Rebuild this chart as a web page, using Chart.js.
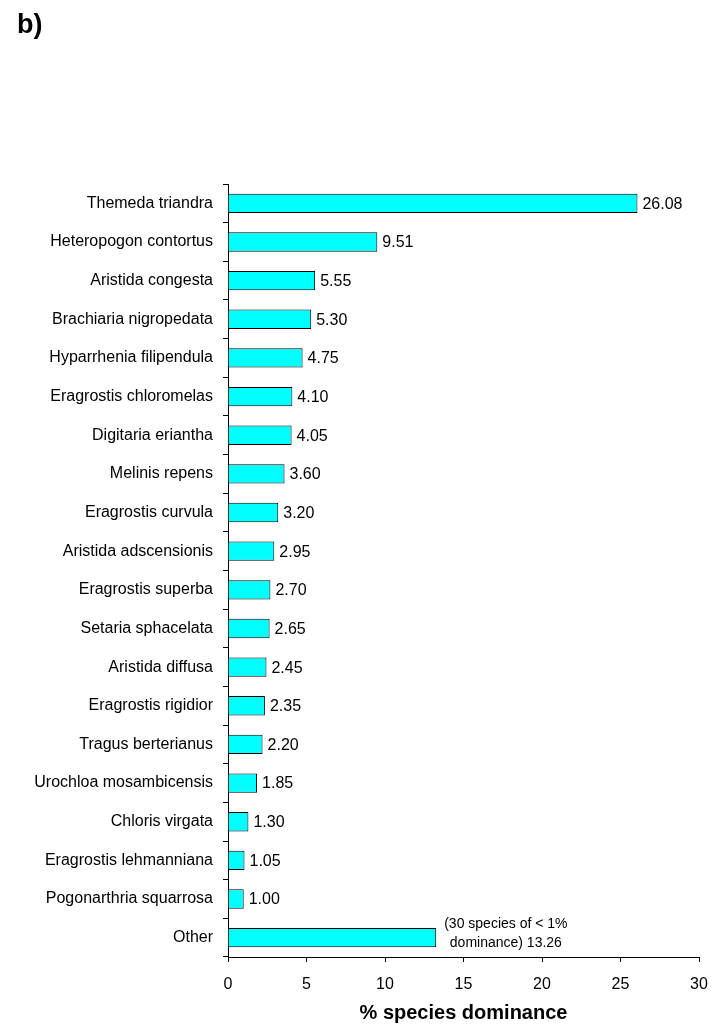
<!DOCTYPE html>
<html>
<head>
<meta charset="utf-8">
<script src="https://cdn.jsdelivr.net/npm/chart.js@4"></script>
<style>
  html, body { margin: 0; padding: 0; background: #fff; }
  #wrap { width: 715px; height: 1025px; }
</style>
</head>
<body>
<div id="wrap"><canvas id="c" width="715" height="1025"></canvas></div>
<script>
// categories (top to bottom)
const species = [
  'Themeda triandra', 'Heteropogon contortus', 'Aristida congesta', 'Brachiaria nigropedata',
  'Hyparrhenia filipendula', 'Eragrostis chloromelas', 'Digitaria eriantha', 'Melinis repens',
  'Eragrostis curvula', 'Aristida adscensionis', 'Eragrostis superba', 'Setaria sphacelata',
  'Aristida diffusa', 'Eragrostis rigidior', 'Tragus berterianus', 'Urochloa mosambicensis',
  'Chloris virgata', 'Eragrostis lehmanniana', 'Pogonarthria squarrosa', 'Other'
];
// % species dominance
const dominance = [26.08, 9.51, 5.55, 5.30, 4.75, 4.10, 4.05, 3.60, 3.20, 2.95,
                   2.70, 2.65, 2.45, 2.35, 2.20, 1.85, 1.30, 1.05, 1.00, 13.26];
const otherNote = ['(30 species of < 1%', 'dominance) 13.26'];
const xTicks = [0, 5, 10, 15, 20, 25, 30];

const FONT = 'Liberation Sans, Arial, sans-serif';

// подписи значений справа от столбцов
const valueLabels = {
  id: 'valueLabels',
  afterDatasetsDraw(chart) {
    const ctx = chart.ctx;
    const meta = chart.getDatasetMeta(0);
    ctx.save();
    ctx.fillStyle = '#000';
    ctx.textBaseline = 'middle';
    meta.data.forEach((bar, i) => {
      if (species[i] === 'Other') {
        ctx.font = '14px ' + FONT;
        const w = Math.max(...otherNote.map(t => ctx.measureText(t).width));
        ctx.textAlign = 'center';
        const cx = bar.x + 8 + w / 2;
        ctx.fillText(otherNote[0], cx, bar.y - 14);
        ctx.fillText(otherNote[1], cx, bar.y + 5);
      } else {
        ctx.font = '16px ' + FONT;
        ctx.textAlign = 'left';
        ctx.fillText(dominance[i].toFixed(2), bar.x + 5, bar.y + 1);
      }
    });
    ctx.restore();
  }
};

// panel letter
const panelLetter = {
  id: 'panelLetter',
  afterDraw(chart) {
    const ctx = chart.ctx;
    ctx.save();
    ctx.fillStyle = '#000';
    ctx.font = 'bold 27px ' + FONT;
    ctx.textAlign = 'left';
    ctx.textBaseline = 'alphabetic';
    ctx.fillText('b)', 17, 33);
    ctx.restore();
  }
};

new Chart(document.getElementById('c'), {
  type: 'bar',
  data: {
    labels: species,
    datasets: [{
      data: dominance,
      backgroundColor: '#00FFFF',
      borderColor: '#000',
      borderWidth: 1,
      barPercentage: 0.5,
      categoryPercentage: 1.0
    }]
  },
  options: {
    indexAxis: 'y',
    responsive: false,
    animation: false,
    devicePixelRatio: 1,
    layout: { padding: { top: 184, left: 0, right: 16, bottom: 0 } },
    plugins: {
      legend: { display: false },
      tooltip: { enabled: false }
    },
    scales: {
      x: {
        min: 0,
        max: 30,
        afterBuildTicks(scale) { scale.ticks = xTicks.map(v => ({ value: v })); },
        afterFit(scale) {
          scale.height = 1025 - 957;
          scale.paddingLeft = 0;
          scale.paddingRight = 0;
        },
        border: { display: true, color: '#000', width: 1 },
        grid: { drawOnChartArea: false, drawTicks: true, tickLength: 5, color: '#000' },
        ticks: { color: '#000', font: { family: FONT, size: 16 }, padding: 13 },
        title: {
          display: true,
          text: '% species dominance',
          color: '#000',
          font: { family: FONT, size: 20, weight: 'bold' },
          padding: { top: 4, bottom: 0 }
        }
      },
      y: {
        afterFit(scale) { scale.width = 228; },
        border: { display: true, color: '#000', width: 1 },
        grid: { drawOnChartArea: false, drawTicks: true, tickLength: 5, color: '#000', offset: true },
        ticks: { color: '#000', font: { family: FONT, size: 16 }, padding: 10, autoSkip: false }
      }
    }
  },
  plugins: [valueLabels, panelLetter]
});
</script>
</body>
</html>
